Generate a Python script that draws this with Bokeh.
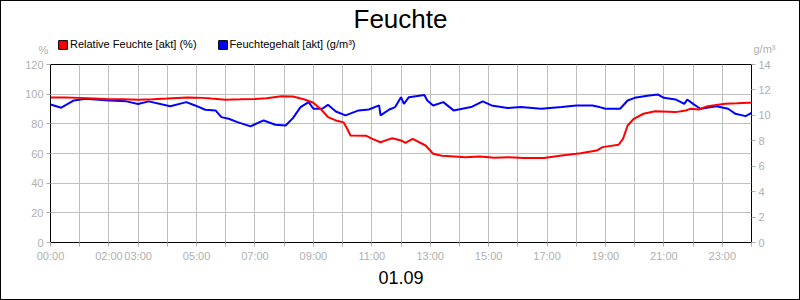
from bokeh.plotting import figure
from bokeh.layouts import column
from bokeh.models import (Range1d, LinearAxis, FixedTicker, Legend, LegendItem, Label)
from bokeh.embed import file_html
from bokeh.resources import INLINE

# ---- data (hours of day 01.09) ----
rh_hours = [0.0, 0.5, 1.0, 1.5, 2.0, 2.5, 3.0, 3.5, 4.0, 4.7, 5.2, 5.5, 6.0, 6.5, 7.0, 7.4,
            7.9, 8.3, 8.7, 9.0, 9.3, 9.5, 9.77, 10.03, 10.15, 10.27, 10.8, 11.0, 11.3, 11.5,
            11.7, 12.0, 12.15, 12.4, 12.84, 13.1, 13.4, 13.7, 14.2, 14.7, 15.2, 15.7, 16.2,
            16.9, 17.5, 18.0, 18.15, 18.7, 18.9, 19.45, 19.6, 19.76, 19.97, 20.3, 20.7, 21.4,
            21.75, 21.9, 22.2, 22.5, 23.1, 23.5, 23.9, 24.0]
rh_values = [97.8, 97.8, 97.5, 97.0, 96.5, 96.5, 96.3, 96.5, 97.0, 97.8, 97.5, 97.0, 96.3, 96.5,
             96.8, 97.3, 98.6, 98.4, 96.4, 94.2, 89.0, 84.5, 82.3, 81.0, 77.0, 72.1, 72.0, 70.0,
             67.6, 69.0, 70.3, 68.8, 67.2, 69.9, 65.4, 59.8, 58.5, 58.2, 57.5, 58.0, 57.2, 57.5,
             56.9, 57.0, 58.7, 59.8, 60.2, 62.0, 64.3, 65.9, 69.9, 78.9, 83.4, 86.8, 88.5, 87.9,
             89.0, 90.1, 89.7, 91.9, 93.5, 93.8, 94.2, 94.2]

ah_hours = [0.0, 0.37, 0.8, 1.2, 2.0, 2.6, 3.0, 3.36, 4.1, 4.65, 4.95, 5.3, 5.65, 5.85, 6.1,
            6.4, 6.85, 7.0, 7.3, 7.7, 8.05, 8.3, 8.56, 8.84, 9.0, 9.3, 9.5, 9.77, 10.1, 10.55,
            10.9, 11.25, 11.3, 11.6, 11.8, 12.0, 12.1, 12.27, 12.8, 12.9, 13.1, 13.45, 13.8,
            14.4, 14.8, 15.1, 15.65, 16.1, 16.8, 17.5, 18.0, 18.55, 18.8, 19.0, 19.5, 19.76,
            20.0, 20.5, 20.8, 21.0, 21.4, 21.7, 21.8, 22.0, 22.25, 22.8, 23.2, 23.45, 23.8, 24.0]
ah_values = [10.86, 10.6, 11.17, 11.3, 11.17, 11.1, 10.9, 11.1, 10.72, 11.04, 10.78, 10.44,
             10.39, 9.86, 9.73, 9.47, 9.13, 9.3, 9.6, 9.26, 9.2, 9.78, 10.65, 11.04, 10.52,
             10.52, 10.83, 10.3, 10.0, 10.39, 10.46, 10.78, 10.0, 10.46, 10.65, 11.43, 10.9,
             11.43, 11.6, 11.17, 10.78, 11.04, 10.39, 10.65, 11.1, 10.78, 10.57, 10.65, 10.52,
             10.65, 10.78, 10.78, 10.65, 10.52, 10.52, 11.17, 11.38, 11.57, 11.64, 11.38, 11.25,
             10.9, 11.25, 10.9, 10.52, 10.72, 10.52, 10.12, 9.94, 10.2]

x_tick_hours = list(range(0, 25))
x_label_hours = [0, 2, 3, 5, 7, 9, 11, 13, 15, 17, 19, 21, 23]
x_label_texts = ["00:00", "02:00", "03:00", "05:00", "07:00", "09:00", "11:00", "13:00",
                 "15:00", "17:00", "19:00", "21:00", "23:00"]
left_ticks = [0, 20, 40, 60, 80, 100, 120]
right_ticks = [0, 2, 4, 6, 8, 10, 12, 14]

title_text = "Feuchte"
date_text = "01.09"
left_unit = "%"
right_unit = "g/m³"
series_names = ["Relative Feuchte [akt] (%)", "Feuchtegehalt [akt] (g/m³)"]
series_colors = ["#ff0000", "#0000ff"]

FONT = "Liberation Sans"
GRAY = "#b0b0b0"
NAN = float("nan")

# ---------- header strip (title, legend, unit labels); coordinates = page pixels ----------
W = 798
TOP_H = 58
top = figure(width=W, height=TOP_H, output_backend="svg", toolbar_location=None, tools="",
             x_range=Range1d(1, 799), y_range=Range1d(1 + TOP_H, 1),
             x_axis_location=None, y_axis_location=None,
             min_border_left=0, min_border_right=0, min_border_top=0, min_border_bottom=0)
top.frame_align = False
top.grid.visible = False
top.outline_line_color = None
top.background_fill_color = "white"
top.border_fill_color = "white"

top.add_layout(Label(x=400, y=18.5, text=title_text, text_align="center", text_baseline="middle",
                     text_font=FONT, text_font_size="26px", text_color="black"))
top.add_layout(Label(x=43, y=49, text=left_unit, text_align="center", text_baseline="middle",
                     text_font=FONT, text_font_size="11px", text_color=GRAY))
top.add_layout(Label(x=753, y=48, text=right_unit, text_align="left", text_baseline="middle",
                     text_font=FONT, text_font_size="11px", text_color=GRAY))

# legend proxies (only the legend squares are drawn)
q1 = top.quad(left=[NAN], right=[NAN], top=[NAN], bottom=[NAN],
              fill_color=series_colors[0], line_color="black")
q2 = top.quad(left=[NAN], right=[NAN], top=[NAN], bottom=[NAN],
              fill_color=series_colors[1], line_color="black")
legend = Legend(items=[LegendItem(label=series_names[0], renderers=[q1]),
                       LegendItem(label=series_names[1], renderers=[q2])],
                orientation="horizontal", location=(56, 9),
                border_line_color=None, background_fill_alpha=0,
                padding=0, margin=0, spacing=20, label_standoff=2,
                glyph_width=11, glyph_height=11, label_height=11,
                label_text_font=FONT, label_text_font_size="11px", label_text_color="black")
top.add_layout(legend, "center")

# ---------- main chart ----------
MAIN_H = 300 - 2 - TOP_H
p = figure(width=W, height=MAIN_H, output_backend="svg", toolbar_location=None, tools="",
           x_range=Range1d(0, 24), y_range=Range1d(0, 120))
p.frame_align = False
p.min_border_left = 49
p.min_border_right = 48
p.min_border_top = 64 - (1 + TOP_H)
p.min_border_bottom = MAIN_H - (242 - (1 + TOP_H))
p.background_fill_color = "white"
p.border_fill_color = "white"
p.outline_line_color = "black"
p.outline_line_width = 1

p.extra_y_ranges = {"g": Range1d(0, 14)}

xa = p.xaxis[0]
xa.ticker = FixedTicker(ticks=x_tick_hours)
overrides = {h: "" for h in x_tick_hours}
for h, t in zip(x_label_hours, x_label_texts):
    overrides[h] = t
xa.major_label_overrides = overrides
xa.axis_label = date_text
xa.axis_label_text_font = FONT
xa.axis_label_text_font_size = "18px"
xa.axis_label_text_font_style = "normal"
xa.axis_label_text_color = "black"
xa.axis_label_standoff = 6

ya = p.yaxis[0]
ya.ticker = FixedTicker(ticks=left_ticks)

ra = LinearAxis(y_range_name="g", ticker=FixedTicker(ticks=right_ticks))
p.add_layout(ra, "right")

for ax in [xa, ya, ra]:
    ax.axis_line_color = None
    ax.major_tick_line_color = GRAY
    ax.major_tick_out = 4
    ax.major_tick_in = 0
    ax.minor_tick_line_color = None
    ax.major_label_text_color = GRAY
    ax.major_label_text_font = FONT
    ax.major_label_text_font_size = "11px"
    ax.major_label_standoff = 3

p.xgrid.grid_line_color = "#c0c0c0"
p.ygrid.grid_line_color = "#c0c0c0"
p.xgrid.ticker = FixedTicker(ticks=x_tick_hours)
p.ygrid.ticker = FixedTicker(ticks=left_ticks)

p.line(ah_hours, ah_values, y_range_name="g", line_color=series_colors[1], line_width=2)
p.line(rh_hours, rh_values, line_color=series_colors[0], line_width=2)

layout = column(top, p, spacing=0, styles={"border": "1px solid black", "background": "white"})

open("out.html", "w").write(file_html(layout, INLINE))
